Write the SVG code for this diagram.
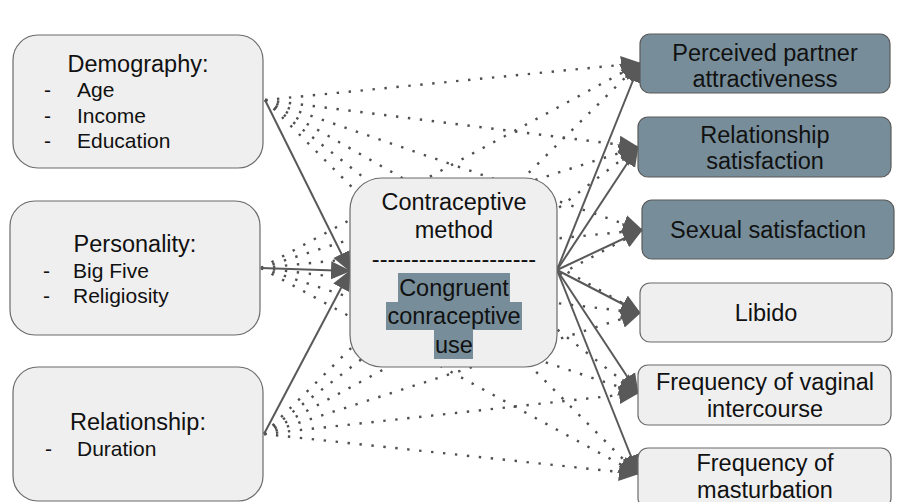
<svg xmlns="http://www.w3.org/2000/svg" width="915" height="502" viewBox="0 0 915 502">
<style>
.light{fill:#efefef;stroke:#6b6b6b;stroke-width:1.2}
.dark{fill:#778e9a;stroke:#5a5a5a;stroke-width:1.2}
.hl{fill:#778e9a}
.t{font-family:"Liberation Sans",Arial,sans-serif;font-size:23.5px;fill:#111}
.b{font-family:"Liberation Sans",Arial,sans-serif;font-size:21px;fill:#111}
.c{text-anchor:middle}
.solid{stroke:#595959;stroke-width:2;fill:none;marker-end:url(#ah)}
.dot{stroke:#4f4f4f;stroke-width:2.4;fill:none;stroke-dasharray:2.4 9.6;marker-end:url(#ah)}
</style>
<defs>
<marker id="ah" viewBox="0 0 20 20" refX="19" refY="10" markerWidth="20" markerHeight="20" orient="auto" markerUnits="userSpaceOnUse">
<path d="M0,1 L20,10 L0,19 z" fill="#595959"/>
</marker>
</defs>
<rect width="915" height="502" fill="#ffffff"/>
<g id="connectors">
<line class="dot" x1="265" y1="100" x2="640" y2="63"/>
<line class="dot" x1="265" y1="100" x2="638" y2="147"/>
<line class="dot" x1="265" y1="100" x2="642" y2="230"/>
<line class="dot" x1="265" y1="100" x2="640" y2="313"/>
<line class="dot" x1="265" y1="100" x2="638" y2="393"/>
<line class="dot" x1="265" y1="100" x2="638" y2="474"/>
<line class="dot" x1="261" y1="268" x2="640" y2="63"/>
<line class="dot" x1="261" y1="268" x2="638" y2="147"/>
<line class="dot" x1="261" y1="268" x2="642" y2="230"/>
<line class="dot" x1="261" y1="268" x2="640" y2="313"/>
<line class="dot" x1="261" y1="268" x2="638" y2="393"/>
<line class="dot" x1="261" y1="268" x2="638" y2="474"/>
<line class="dot" x1="264" y1="434" x2="640" y2="63"/>
<line class="dot" x1="264" y1="434" x2="638" y2="147"/>
<line class="dot" x1="264" y1="434" x2="642" y2="230"/>
<line class="dot" x1="264" y1="434" x2="640" y2="313"/>
<line class="dot" x1="264" y1="434" x2="638" y2="393"/>
<line class="dot" x1="264" y1="434" x2="638" y2="474"/>
<line class="solid" x1="265" y1="100" x2="350" y2="271"/>
<line class="solid" x1="261" y1="268" x2="350" y2="271"/>
<line class="solid" x1="264" y1="434" x2="350" y2="271"/>
<line class="solid" x1="557" y1="270" x2="640" y2="63"/>
<line class="solid" x1="557" y1="270" x2="638" y2="147"/>
<line class="solid" x1="557" y1="270" x2="642" y2="230"/>
<line class="solid" x1="557" y1="270" x2="640" y2="313"/>
<line class="solid" x1="557" y1="270" x2="638" y2="393"/>
<line class="solid" x1="557" y1="270" x2="638" y2="474"/>
</g>
<g id="demography">
<rect class="light" x="13" y="35" width="250" height="133" rx="25"/>
<text class="t c" x="138" y="72">Demography:</text>
<text class="b" x="44" y="97">-</text><text class="b" x="77" y="97">Age</text>
<text class="b" x="44" y="123">-</text><text class="b" x="77" y="123">Income</text>
<text class="b" x="44" y="148">-</text><text class="b" x="77" y="148">Education</text>
</g>
<g id="personality">
<rect class="light" x="10" y="201" width="250" height="134" rx="25"/>
<text class="t c" x="135" y="252">Personality:</text>
<text class="b" x="43" y="278">-</text><text class="b" x="73" y="278">Big Five</text>
<text class="b" x="43" y="303">-</text><text class="b" x="73" y="303">Religiosity</text>
</g>
<g id="relationship">
<rect class="light" x="13" y="367" width="250" height="134" rx="25"/>
<text class="t c" x="138" y="430">Relationship:</text>
<text class="b" x="45" y="456">-</text><text class="b" x="77" y="456">Duration</text>
</g>
<g id="contraceptive">
<rect class="light" x="350" y="178" width="207" height="189" rx="32"/>
<text class="t c" x="454" y="210">Contraceptive</text>
<text class="t c" x="454" y="238">method</text>
<text class="t c" x="454" y="267">---------------------</text>
<rect class="hl" x="398" y="273" width="112" height="29"/>
<rect class="hl" x="386" y="302" width="136" height="28"/>
<rect class="hl" x="434" y="330" width="39" height="29"/>
<text class="t c" x="454" y="296">Congruent</text>
<text class="t c" x="454" y="324">conraceptive</text>
<text class="t c" x="454" y="353">use</text>
</g>
<g id="perceived">
<rect class="dark" x="640" y="34" width="250" height="59" rx="10"/>
<text class="t c" x="765" y="61">Perceived partner</text>
<text class="t c" x="765" y="87">attractiveness</text>
</g>
<g id="relsat">
<rect class="dark" x="638" y="117" width="253" height="60" rx="10"/>
<text class="t c" x="765" y="143">Relationship</text>
<text class="t c" x="765" y="169">satisfaction</text>
</g>
<g id="sexsat">
<rect class="dark" x="642" y="200" width="252" height="59" rx="10"/>
<text class="t c" x="768" y="238">Sexual satisfaction</text>
</g>
<g id="libido">
<rect class="light" x="640" y="283" width="252" height="59" rx="10"/>
<text class="t c" x="766" y="321">Libido</text>
</g>
<g id="freqv">
<rect class="light" x="638" y="365" width="253" height="60" rx="10"/>
<text class="t c" x="765" y="390">Frequency of vaginal</text>
<text class="t c" x="765" y="417">intercourse</text>
</g>
<g id="freqm">
<rect class="light" x="638" y="448" width="253" height="60" rx="10"/>
<text class="t c" x="765" y="471">Frequency of</text>
<text class="t c" x="765" y="498">masturbation</text>
</g>
</svg>
